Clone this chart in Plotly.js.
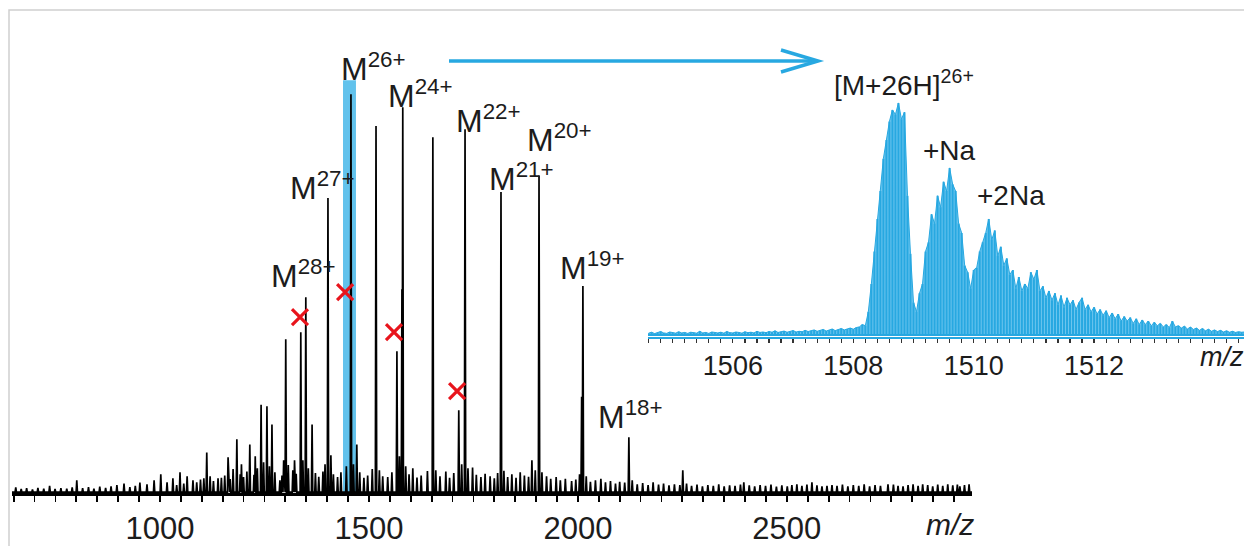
<!DOCTYPE html>
<html>
<head>
<meta charset="utf-8">
<script src="https://cdn.plot.ly/plotly-3.0.1.min.js"></script>
<style>
  html, body { margin: 0; padding: 0; background: #ffffff; }
  #chart { width: 1244px; height: 546px; }
</style>
</head>
<body>
<div id="chart"></div>
<script>
// ---------- main spectrum: principal peaks (m/z, relative intensity %) ----------
const peakMz  = [1112, 1139, 1163, 1175, 1184, 1195, 1215, 1228, 1242, 1256, 1268, 1287, 1296, 1301, 1322, 1337, 1349, 1364, 1395, 1402, 1409, 1457, 1471, 1517, 1567, 1579, 1581, 1653, 1715, 1730, 1816, 1890, 1907, 2009, 2012, 2122, 2251, 2397];
const peakInt = [10, 3.5, 8.8, 5.8, 13.3, 7, 12, 9, 22, 21.6, 17, 3, 8, 38.4, 8, 40.2, 49, 17, 7, 73.9, 9.3, 100, 12, 92, 35.4, 51, 96.7, 89.2, 20.6, 91.2, 75.4, 8, 79.6, 24, 51.8, 13.8, 5.5, 2.5];

// ---------- main spectrum: small baseline peaks ----------
const noiseMz = [655, 668, 681, 695, 708, 722, 736, 749, 763, 777, 790, 801, 815, 829, 842, 856, 870, 883, 897, 914, 928, 941, 952, 969, 986, 1002, 1017, 1031, 1040, 1048, 1057, 1065, 1079, 1088, 1097,
  1105, 1120, 1128, 1147, 1155, 1168, 1192, 1200, 1208, 1225, 1233, 1248, 1262, 1275, 1292, 1307, 1318, 1326, 1342, 1355, 1372, 1380, 1390, 1415, 1425, 1433, 1446, 1463, 1478, 1488, 1497, 1508, 1525, 1533, 1545, 1555, 1573, 1588, 1596, 1605, 1615, 1625, 1640, 1660, 1670, 1684, 1693, 1703, 1722, 1737, 1748, 1757, 1768, 1778, 1790, 1800, 1808, 1823, 1832, 1842, 1852, 1862, 1872, 1882, 1898, 1914, 1925, 1935, 1948, 1958, 1970, 1985, 1995, 2004, 2020, 2030, 2042, 2055, 2066, 2078, 2090, 2100,
  2112, 2130, 2142, 2155, 2168, 2180, 2193, 2205, 2218, 2231, 2244, 2260, 2272, 2285, 2298, 2311, 2324, 2337, 2350, 2363, 2376, 2389, 2410, 2423, 2436, 2449, 2462, 2475, 2488, 2501, 2512, 2524, 2536, 2548, 2560, 2572, 2584, 2596, 2608, 2620, 2633, 2646, 2659, 2672, 2685, 2698, 2711, 2724, 2742, 2755, 2766, 2778, 2790, 2802, 2814, 2825, 2837, 2849, 2861, 2873, 2885, 2897, 2908, 2914, 2925, 2936];
const noiseInt = [1.2, 0.8, 1.0, 0.7, 1.1, 0.9, 1.6, 0.8, 1.0, 0.9, 1.2, 3.0, 1.0, 1.3, 0.9, 1.4, 1.1, 1.5, 1.8, 2.2, 1.3, 1.6, 2.4, 2.0, 3.0, 4.5, 2.5, 3.5, 1.8, 5, 2.2, 4, 3, 2.5, 3.2,
  3.5, 4, 2.8, 3.6, 4.2, 3.3, 4.5, 3.8, 5.2, 4.4, 6, 7.5, 6.5, 5, 4.2, 6.8, 5.5, 4.6, 8, 6, 4.8, 3.9, 5.2, 4.5, 3.8, 5, 6.5, 7, 5, 3.6, 4.2, 5.8, 5.5, 4, 3.8, 5, 9, 6.5, 4.5, 6, 3.7, 4.2, 5.3, 5.5, 4, 5.2, 3.6, 4.8, 7, 6, 6.2, 4.4, 3.8, 4.6, 4, 3.5, 4.8, 5.4, 3.8, 4.5, 3.6, 5, 4.2, 3.9, 5.5, 5, 4, 3.4, 3.8, 3, 3.4, 2.8, 3.2, 4.5, 4, 2.6, 3, 3.4, 2.5, 2.8, 2.2, 2.6,
  2.4, 3, 2, 2.3, 1.8, 2.5, 1.9, 2.2, 1.7, 2.0, 1.8, 2.2, 1.6, 1.9, 1.5, 1.8, 1.6, 2.0, 1.5, 1.7, 1.6, 1.9, 1.7, 1.5, 1.8, 1.6, 1.9, 1.4, 1.7, 1.5, 1.8, 2.0, 1.6, 1.9, 2.5, 1.7, 1.5, 1.6, 1.8, 1.6, 1.9, 1.5, 1.8, 1.6, 2.0, 1.5, 1.8, 1.6, 2.0, 1.9, 1.6, 1.5, 1.8, 2.0, 1.6, 2.0, 1.8, 1.5, 1.9, 1.6, 2.0, 1.7, 1.9, 1.5, 1.8, 2.0];

// ---------- charge-state labels ----------
const labelText = ['M<sup>26+</sup>', 'M<sup>24+</sup>', 'M<sup>22+</sup>', 'M<sup>20+</sup>', 'M<sup>21+</sup>', 'M<sup>27+</sup>', 'M<sup>28+</sup>', 'M<sup>19+</sup>', 'M<sup>18+</sup>'];
const labelMz   = [1512, 1624, 1787, 1957, 1866, 1388, 1344, 2036, 2127];
const labelInt  = [106.9, 100, 93.7, 88.9, 79.1, 76.9, 54.8, 56.8, 19.3];

// ---------- crossed-out peaks ----------
const crossMz  = [1335, 1443, 1560, 1711];
const crossInt = [44, 50.3, 40.2, 25.4];

// ---------- highlighted peak band ----------
const bandMz  = [1438, 1469];
const bandTop = 103.5;

// ---------- inset: zoom on [M+26H]26+ (sampled every 0.05 from 1504.60) ----------
const insetStart = 1504.60;
const insetStep  = 0.05;
const insetInt = [
  0.8, 1.2, 0.6, 1.0, 1.5, 0.9, 0.7, 1.3, 1.0, 0.8,
  1.4, 0.9, 1.1, 0.7, 1.2, 1.0, 0.8, 1.6, 0.9, 1.1,
  0.7, 1.3, 1.0, 0.9, 1.2, 0.8, 1.5, 1.0, 0.9, 1.3,
  1.1, 0.8, 1.4, 1.0, 1.2, 0.9, 1.6, 1.1, 1.3, 1.0,
  1.5, 1.2, 1.8, 1.1, 1.4, 1.7, 1.2, 1.5, 1.9, 1.3,
  1.6, 1.4, 2.0, 1.5, 1.8, 2.2, 1.6, 1.9, 2.4, 1.7,
  2.1, 2.6, 1.9, 2.3, 2.8, 2.2, 2.6, 3.0, 2.5, 3.2,
  3.5, 4.5,
  4, 10, 22, 36, 50, 62, 76, 84, 92, 97,
  95, 100, 93, 96, 60, 35, 14, 10, 18, 22,
  36, 40, 52, 48, 60, 55, 66, 62, 72, 65,
  62, 48, 44, 30, 27, 20, 28, 29, 36, 40,
  44, 50, 41, 45, 34, 38, 30, 33, 26, 28,
  20, 25, 19, 22, 20, 27, 24, 28, 19, 21,
  16, 19, 15, 18, 13, 17, 12, 16, 13, 15,
  11, 14, 16, 11, 13, 10, 12, 9, 11, 8.5,
  10.5, 7.5, 9.5, 7, 9, 6, 8, 6, 7.5, 5,
  7, 4.5, 6.5, 4.5, 6, 4, 5.5, 4, 5, 3.5,
  4.5, 3.2, 6, 3.5, 4, 3, 3.8, 2.6, 3.4, 2.4,
  3, 2, 2.8, 1.8, 2.5, 1.6, 2.2, 1.5, 2, 1.3,
  1.8, 1.2, 1.6, 1.1, 1.4, 1.2, 1.3];
const insetLabelText = ['[M+26H]<sup>26+</sup>', '+Na', '+2Na'];
const insetLabelMz   = [1508.84, 1509.60, 1510.62];
const insetLabelInt  = [108.6, 79.3, 59.9];

// ---------- build stick spectra ----------
const W = 1244, H = 546;
const allPeaks = [];
for (let i = 0; i < peakMz.length; i++) allPeaks.push([peakMz[i], peakInt[i]]);
for (let i = 0; i < noiseMz.length; i++) allPeaks.push([noiseMz[i], noiseInt[i]]);
allPeaks.sort((a, b) => a[0] - b[0]);
const hw = 1.6, base = 0;
const specX = [646], specY = [base];
for (const [m, h] of allPeaks) {
  specX.push(m - hw, m, m + hw);
  specY.push(base, h, base);
}
specX.push(2943); specY.push(base);

const insetX = insetInt.map((_, i) => +(insetStart + i * insetStep).toFixed(3));
const stickX = [], stickY = [];
for (let i = 0; i < insetX.length; i++) {
  stickX.push(insetX[i], insetX[i], insetX[i]);
  stickY.push(0, insetInt[i], 0);
}

const BLUE = '#27a8e1';
const FONT = 'Liberation Sans, Arial, Helvetica, sans-serif';

const traces = [
  { type: 'scatter', mode: 'lines', x: specX, y: specY, xaxis: 'x', yaxis: 'y',
    line: { color: '#000000', width: 1.7 }, hoverinfo: 'skip' },
  { type: 'scatter', mode: 'markers', x: crossMz, y: crossInt, xaxis: 'x', yaxis: 'y',
    marker: { symbol: 'x-thin', size: 16, line: { width: 3.2, color: '#e8141c' }, color: '#e8141c' }, hoverinfo: 'skip' },
  { type: 'scatter', mode: 'lines', x: insetX, y: insetInt, xaxis: 'x2', yaxis: 'y2',
    fill: 'tozeroy', fillcolor: '#6cc5ee', line: { color: BLUE, width: 1 }, hoverinfo: 'skip' },
  { type: 'scatter', mode: 'lines', x: stickX, y: stickY, xaxis: 'x2', yaxis: 'y2',
    line: { color: BLUE, width: 2 }, hoverinfo: 'skip' }
];

const annotations = [];
for (let i = 0; i < labelText.length; i++) {
  annotations.push({ x: labelMz[i], y: labelInt[i], xref: 'x', yref: 'y', text: labelText[i],
    showarrow: false, xanchor: 'center', yanchor: 'middle',
    font: { family: FONT, size: 32, color: '#1c1c1c' } });
}
for (let i = 0; i < insetLabelText.length; i++) {
  annotations.push({ x: insetLabelMz[i], y: insetLabelInt[i], xref: 'x2', yref: 'y2', text: insetLabelText[i],
    showarrow: false, xanchor: 'center', yanchor: 'middle',
    font: { family: FONT, size: 28, color: '#1c1c1c' } });
}
annotations.push({ x: 950 / W, y: 1 - 524 / H, xref: 'paper', yref: 'paper', text: '<i>m/z</i>',
  showarrow: false, xanchor: 'center', yanchor: 'middle', font: { family: FONT, size: 30, color: '#1c1c1c' } });
annotations.push({ x: 1222 / W, y: 1 - 357 / H, xref: 'paper', yref: 'paper', text: '<i>m/z</i>',
  showarrow: false, xanchor: 'center', yanchor: 'middle', font: { family: FONT, size: 27, color: '#1c1c1c' } });

const px = v => v / W, py = v => 1 - v / H;
const shapes = [
  { type: 'rect', xref: 'paper', yref: 'paper', x0: px(9), x1: 1.02, y0: -0.02, y1: py(10),
    line: { color: '#cfcfcf', width: 1.5 }, fillcolor: 'rgba(0,0,0,0)', layer: 'below' },
  { type: 'rect', xref: 'x', yref: 'y', x0: bandMz[0], x1: bandMz[1], y0: 0, y1: bandTop,
    line: { width: 0 }, fillcolor: '#62c2ec', layer: 'below' },
  { type: 'line', xref: 'paper', yref: 'paper', x0: px(449), x1: px(815), y0: py(61), y1: py(61),
    line: { color: BLUE, width: 3.5 } },
  { type: 'path', xref: 'paper', yref: 'paper',
    path: `M ${px(781)} ${py(50)} L ${px(818)} ${py(61)} L ${px(781)} ${py(72)}`,
    line: { color: BLUE, width: 3.5 } }
];

const layout = {
  width: W, height: H,
  margin: { l: 0, r: 0, t: 0, b: 0 },
  paper_bgcolor: '#ffffff', plot_bgcolor: 'rgba(0,0,0,0)',
  showlegend: false,
  xaxis: {
    domain: [12 / W, 972 / W], range: [646, 2943], anchor: 'y',
    showline: true, linecolor: '#000000', linewidth: 2.5,
    showgrid: false, zeroline: false,
    tickmode: 'linear', tick0: 1000, dtick: 500,
    ticks: 'outside', ticklen: 6, tickwidth: 1.8, tickcolor: '#000000',
    minor: { tickmode: 'linear', tick0: 650, dtick: 50, ticks: 'outside', ticklen: 6, tickwidth: 1.8, tickcolor: '#000000', showgrid: false },
    tickfont: { family: FONT, size: 31, color: '#1c1c1c' }
  },
  yaxis: {
    domain: [1 - 493 / H, 1], range: [-0.2, 123.67], visible: false, fixedrange: true
  },
  xaxis2: {
    domain: [648 / W, 1], range: [1504.59, 1514.49], anchor: 'y2',
    showline: true, linecolor: BLUE, linewidth: 1.5,
    showgrid: false, zeroline: false,
    tickmode: 'linear', tick0: 1506, dtick: 2,
    ticks: 'outside', ticklen: 4, tickwidth: 1.2, tickcolor: '#333333',
    minor: { tickmode: 'linear', tick0: 1504.6, dtick: 0.2, ticks: 'outside', ticklen: 4, tickwidth: 1.2, tickcolor: '#333333', showgrid: false },
    tickfont: { family: FONT, size: 27, color: '#1c1c1c' }
  },
  yaxis2: {
    domain: [1 - 337 / H, 1 - 60 / H], range: [-0.86, 118.5], visible: false, fixedrange: true, anchor: 'x2'
  },
  shapes: shapes,
  annotations: annotations
};

Plotly.newPlot('chart', traces, layout, { staticPlot: true, displayModeBar: false });
</script>
</body>
</html>
